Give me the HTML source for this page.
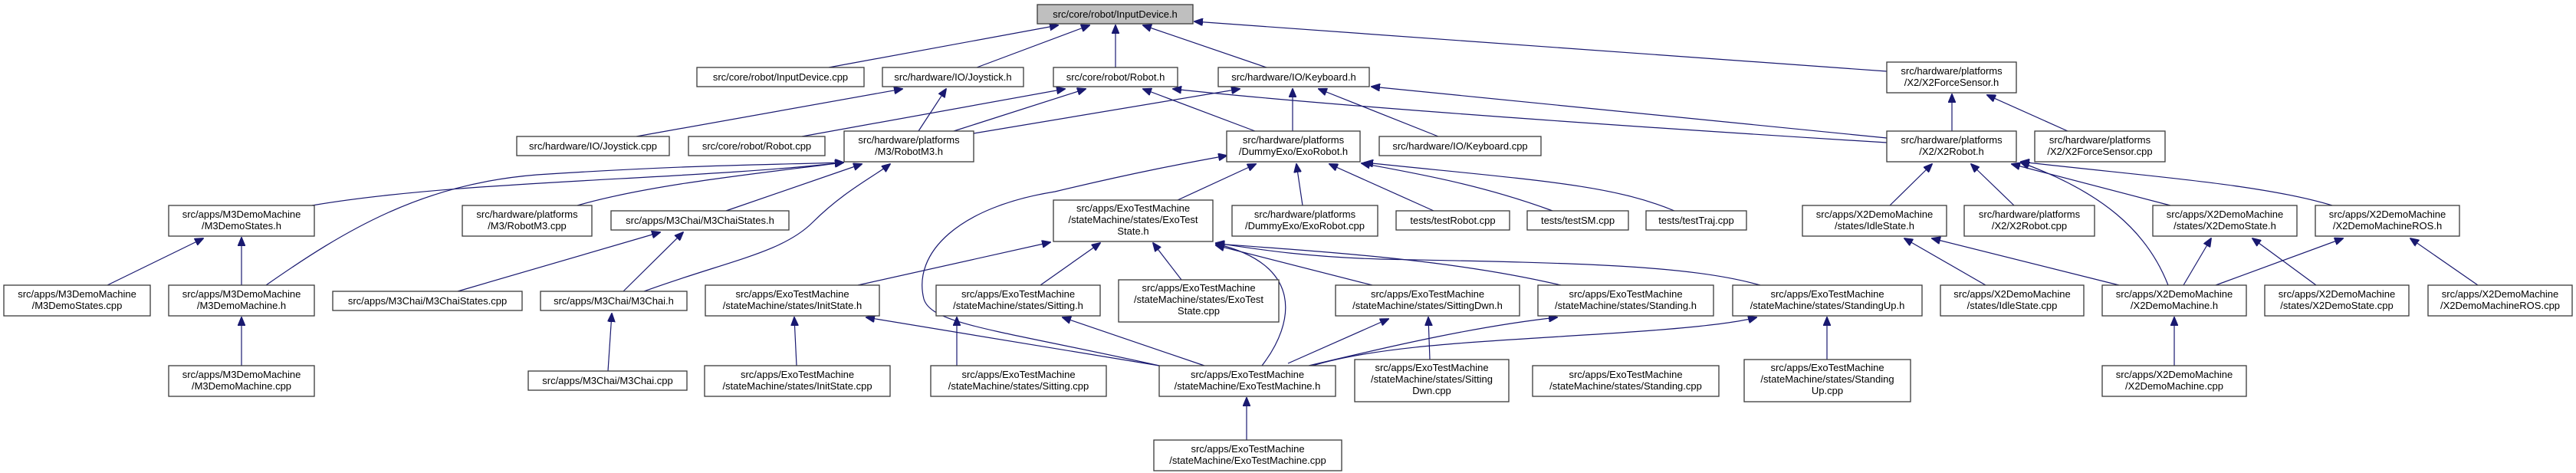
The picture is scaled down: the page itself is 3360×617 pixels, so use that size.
<!DOCTYPE html>
<html><head><meta charset="utf-8"><style>
html,body{margin:0;padding:0;background:#fff;}
svg{display:block;}
text{font-family:"Liberation Sans",sans-serif;font-size:13px;fill:#000;text-anchor:middle;}
rect{fill:#fff;stroke:#3a3a3a;stroke-width:1.3;}
path{fill:none;stroke:#191970;stroke-width:1.2;}
</style></head><body>
<svg width="3360" height="617" viewBox="0 0 3360 617" xmlns="http://www.w3.org/2000/svg">
<defs>
<marker id="a" markerWidth="12" markerHeight="10" refX="11" refY="5" orient="auto" markerUnits="userSpaceOnUse">
<path d="M0,0 L12,5 L0,10 Z" style="fill:#191970;stroke:#191970;stroke-width:1"/>
</marker>
</defs>
<g marker-end="url(#a)">
<path d="M1081,88 L1380,33"/>
<path d="M1274,88 L1421,33"/>
<path d="M1455,88 L1455,33"/>
<path d="M1652,88 L1491,33"/>
<path d="M2461,93 L1558,28"/>
<path d="M830,178 L1177,116"/>
<path d="M1198,171 L1234,116"/>
<path d="M1046,178 L1389,116"/>
<path d="M1244,171 L1416,116"/>
<path d="M1270,174 L1617,116"/>
<path d="M1637,171 L1491,116"/>
<path d="M2461,186 C2200,170 1750,140 1530,116"/>
<path d="M1686,171 L1686,116"/>
<path d="M1876,178 L1720,116"/>
<path d="M2461,180 L1789,113"/>
<path d="M2546,171 L2546,123"/>
<path d="M2697,171 L2592,124"/>
<path d="M407,268 C600,235 900,235 1100,212"/>
<path d="M347,372 C450,300 550,240 700,228 C900,215 1000,215 1100,212"/>
<path d="M753,268 C850,240 1000,225 1100,212"/>
<path d="M947,275 L1124,214"/>
<path d="M840,380 C950,340 1020,330 1060,290 C1100,250 1140,230 1161,214"/>
<path d="M140,372 L265,311"/>
<path d="M315,372 L315,310"/>
<path d="M315,477 L315,414"/>
<path d="M597,380 L861,303"/>
<path d="M813,380 L891,303"/>
<path d="M793,484 L798,409"/>
<path d="M1536,261 L1638,214"/>
<path d="M1512,477 C1300,430 1215,423 1205,390 C1190,330 1250,270 1376,250 C1480,225 1550,212 1600,203"/>
<path d="M1699,268 L1691,214"/>
<path d="M1870,275 L1734,214"/>
<path d="M2025,275 C1930,240 1840,225 1776,213"/>
<path d="M2184,275 C2100,240 2000,235 1780,212"/>
<path d="M1119,372 L1370,316"/>
<path d="M1357,372 L1435,317"/>
<path d="M1541,365 L1504,317"/>
<path d="M1646,477 C1690,420 1700,345 1586,318"/>
<path d="M1790,372 L1586,320"/>
<path d="M2036,372 C1900,340 1750,330 1586,318"/>
<path d="M2296,372 C2200,345 2050,343 1800,338 C1700,335 1640,325 1586,317"/>
<path d="M1039,477 L1036,414"/>
<path d="M1512,477 L1130,414"/>
<path d="M1248,477 L1248,414"/>
<path d="M1571,477 L1386,414"/>
<path d="M1680,474 L1811,416"/>
<path d="M1865,469 L1863,414"/>
<path d="M1707,477 C1820,450 1930,425 2031,414"/>
<path d="M1712,477 C1800,450 1950,445 2050,438 C2150,432 2250,425 2291,414"/>
<path d="M2383,469 L2383,414"/>
<path d="M1626,574 L1626,519"/>
<path d="M2465,268 L2520,214"/>
<path d="M2627,268 L2571,214"/>
<path d="M2828,372 C2800,300 2740,250 2636,212"/>
<path d="M2831,268 L2624,214"/>
<path d="M3042,268 C2950,240 2800,230 2636,211"/>
<path d="M2590,372 L2484,311"/>
<path d="M2764,372 L2520,311"/>
<path d="M2848,372 L2884,311"/>
<path d="M3021,372 L2938,311"/>
<path d="M2890,372 L3056,311"/>
<path d="M3232,372 L3144,311"/>
<path d="M2836,477 L2836,414"/>
</g>

<!-- nodes -->
<rect x="1353" y="6" width="203" height="25" style="fill:#bfbfbf"/><text x="1454.5" y="23">src/core/robot/InputDevice.h</text>
<rect x="909" y="88" width="218" height="25"/><text x="1018" y="105">src/core/robot/InputDevice.cpp</text>
<rect x="1151" y="88" width="184" height="25"/><text x="1243" y="105">src/hardware/IO/Joystick.h</text>
<rect x="1374" y="88" width="162" height="25"/><text x="1455" y="105">src/core/robot/Robot.h</text>
<rect x="1589" y="88" width="197" height="25"/><text x="1687.5" y="105">src/hardware/IO/Keyboard.h</text>
<rect x="2461" y="81" width="169" height="40"/><text x="2545.5" y="97">src/hardware/platforms</text><text x="2545.5" y="112">/X2/X2ForceSensor.h</text>

<rect x="674" y="178" width="199" height="25"/><text x="773.5" y="195">src/hardware/IO/Joystick.cpp</text>
<rect x="898" y="178" width="178" height="25"/><text x="987" y="195">src/core/robot/Robot.cpp</text>
<rect x="1101" y="171" width="169" height="40"/><text x="1185.5" y="187">src/hardware/platforms</text><text x="1185.5" y="202">/M3/RobotM3.h</text>
<rect x="1600" y="171" width="174" height="40"/><text x="1687" y="187">src/hardware/platforms</text><text x="1687" y="202">/DummyExo/ExoRobot.h</text>
<rect x="1799" y="178" width="211" height="25"/><text x="1904.5" y="195">src/hardware/IO/Keyboard.cpp</text>
<rect x="2461" y="171" width="169" height="40"/><text x="2545.5" y="187">src/hardware/platforms</text><text x="2545.5" y="202">/X2/X2Robot.h</text>
<rect x="2654" y="171" width="170" height="40"/><text x="2739" y="187">src/hardware/platforms</text><text x="2739" y="202">/X2/X2ForceSensor.cpp</text>

<rect x="220" y="268" width="190" height="40"/><text x="315" y="284">src/apps/M3DemoMachine</text><text x="315" y="299">/M3DemoStates.h</text>
<rect x="603" y="268" width="169" height="40"/><text x="687.5" y="284">src/hardware/platforms</text><text x="687.5" y="299">/M3/RobotM3.cpp</text>
<rect x="797" y="275" width="232" height="25"/><text x="913" y="292">src/apps/M3Chai/M3ChaiStates.h</text>
<rect x="1374" y="261" width="208" height="54"/><text x="1478" y="276">src/apps/ExoTestMachine</text><text x="1478" y="291">/stateMachine/states/ExoTest</text><text x="1478" y="306">State.h</text>
<rect x="1607" y="268" width="190" height="40"/><text x="1702" y="284">src/hardware/platforms</text><text x="1702" y="299">/DummyExo/ExoRobot.cpp</text>
<rect x="1821" y="275" width="148" height="25"/><text x="1895" y="292">tests/testRobot.cpp</text>
<rect x="1992" y="275" width="132" height="25"/><text x="2058" y="292">tests/testSM.cpp</text>
<rect x="2147" y="275" width="131" height="25"/><text x="2212.5" y="292">tests/testTraj.cpp</text>
<rect x="2351" y="268" width="188" height="40"/><text x="2445" y="284">src/apps/X2DemoMachine</text><text x="2445" y="299">/states/IdleState.h</text>
<rect x="2562" y="268" width="170" height="40"/><text x="2647" y="284">src/hardware/platforms</text><text x="2647" y="299">/X2/X2Robot.cpp</text>
<rect x="2808" y="268" width="188" height="40"/><text x="2902" y="284">src/apps/X2DemoMachine</text><text x="2902" y="299">/states/X2DemoState.h</text>
<rect x="3020" y="268" width="188" height="40"/><text x="3114" y="284">src/apps/X2DemoMachine</text><text x="3114" y="299">/X2DemoMachineROS.h</text>

<rect x="5" y="372" width="191" height="40"/><text x="100.5" y="388">src/apps/M3DemoMachine</text><text x="100.5" y="403">/M3DemoStates.cpp</text>
<rect x="220" y="372" width="190" height="40"/><text x="315" y="388">src/apps/M3DemoMachine</text><text x="315" y="403">/M3DemoMachine.h</text>
<rect x="434" y="380" width="247" height="25"/><text x="557.5" y="397">src/apps/M3Chai/M3ChaiStates.cpp</text>
<rect x="705" y="380" width="191" height="25"/><text x="800.5" y="397">src/apps/M3Chai/M3Chai.h</text>
<rect x="920" y="372" width="227" height="40"/><text x="1033.5" y="388">src/apps/ExoTestMachine</text><text x="1033.5" y="403">/stateMachine/states/InitState.h</text>
<rect x="1221" y="372" width="214" height="40"/><text x="1328" y="388">src/apps/ExoTestMachine</text><text x="1328" y="403">/stateMachine/states/Sitting.h</text>
<rect x="1459" y="365" width="209" height="55"/><text x="1563.5" y="380">src/apps/ExoTestMachine</text><text x="1563.5" y="395">/stateMachine/states/ExoTest</text><text x="1563.5" y="410">State.cpp</text>
<rect x="1742" y="372" width="240" height="40"/><text x="1862" y="388">src/apps/ExoTestMachine</text><text x="1862" y="403">/stateMachine/states/SittingDwn.h</text>
<rect x="2006" y="372" width="229" height="40"/><text x="2120.5" y="388">src/apps/ExoTestMachine</text><text x="2120.5" y="403">/stateMachine/states/Standing.h</text>
<rect x="2260" y="372" width="247" height="40"/><text x="2383.5" y="388">src/apps/ExoTestMachine</text><text x="2383.5" y="403">/stateMachine/states/StandingUp.h</text>
<rect x="2531" y="372" width="187" height="40"/><text x="2624.5" y="388">src/apps/X2DemoMachine</text><text x="2624.5" y="403">/states/IdleState.cpp</text>
<rect x="2742" y="372" width="188" height="40"/><text x="2836" y="388">src/apps/X2DemoMachine</text><text x="2836" y="403">/X2DemoMachine.h</text>
<rect x="2954" y="372" width="188" height="40"/><text x="3048" y="388">src/apps/X2DemoMachine</text><text x="3048" y="403">/states/X2DemoState.cpp</text>
<rect x="3167" y="372" width="188" height="40"/><text x="3261" y="388">src/apps/X2DemoMachine</text><text x="3261" y="403">/X2DemoMachineROS.cpp</text>

<rect x="220" y="477" width="190" height="40"/><text x="315" y="493">src/apps/M3DemoMachine</text><text x="315" y="508">/M3DemoMachine.cpp</text>
<rect x="689" y="484" width="207" height="25"/><text x="792.5" y="501">src/apps/M3Chai/M3Chai.cpp</text>
<rect x="919" y="477" width="242" height="40"/><text x="1040" y="493">src/apps/ExoTestMachine</text><text x="1040" y="508">/stateMachine/states/InitState.cpp</text>
<rect x="1214" y="477" width="229" height="40"/><text x="1328.5" y="493">src/apps/ExoTestMachine</text><text x="1328.5" y="508">/stateMachine/states/Sitting.cpp</text>
<rect x="1512" y="477" width="230" height="40"/><text x="1627" y="493">src/apps/ExoTestMachine</text><text x="1627" y="508">/stateMachine/ExoTestMachine.h</text>
<rect x="1767" y="469" width="201" height="55"/><text x="1867.5" y="484">src/apps/ExoTestMachine</text><text x="1867.5" y="499">/stateMachine/states/Sitting</text><text x="1867.5" y="514">Dwn.cpp</text>
<rect x="1999" y="477" width="243" height="40"/><text x="2120.5" y="493">src/apps/ExoTestMachine</text><text x="2120.5" y="508">/stateMachine/states/Standing.cpp</text>
<rect x="2275" y="469" width="217" height="55"/><text x="2383.5" y="484">src/apps/ExoTestMachine</text><text x="2383.5" y="499">/stateMachine/states/Standing</text><text x="2383.5" y="514">Up.cpp</text>
<rect x="2742" y="477" width="188" height="40"/><text x="2836" y="493">src/apps/X2DemoMachine</text><text x="2836" y="508">/X2DemoMachine.cpp</text>

<rect x="1505" y="574" width="245" height="40"/><text x="1627.5" y="590">src/apps/ExoTestMachine</text><text x="1627.5" y="605">/stateMachine/ExoTestMachine.cpp</text>
</svg>
</body></html>
